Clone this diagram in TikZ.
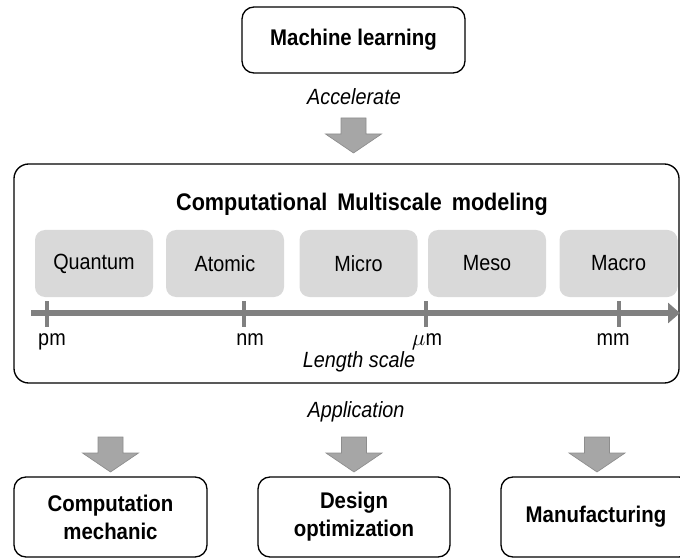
\documentclass[tikz,border=0pt]{standalone}
\usepackage{fontspec}
\setmainfont[FakeStretch=0.9]{Liberation Sans}
\usetikzlibrary{positioning}
\usetikzlibrary{arrows.meta}

\definecolor{scalegray}{RGB}{217,217,217}
\definecolor{arrowgray}{RGB}{166,166,166}
\definecolor{axisgray}{RGB}{128,128,128}

\begin{document}
\begin{tikzpicture}[x=0.75pt, y=-0.75pt,
  roundbox/.style={draw=black, rounded corners=9pt, line width=1pt, align=center, font=\fontsize{17}{21}\selectfont\bfseries},
  scalebox/.style={fill=scalegray, rounded corners=7.5pt, minimum width=88.5pt, minimum height=50.25pt, font=\fontsize{16.5}{20}\selectfont},
  tag/.style={font=\fontsize{16.5}{20}\selectfont\itshape},
  ticklabel/.style={font=\fontsize{16.5}{20}\selectfont, inner sep=0pt, anchor=base},
  tickline/.style={axisgray, line width=3pt},
  downarrow/.pic={\draw[fill=arrowgray, draw=arrowgray!85!black, line width=0.5pt] (-12.5,0) -- (12.5,0) -- (12.5,16) -- (28,16) -- (0,35) -- (-28,16) -- (-12.5,16) -- cycle;}
]
\useasboundingbox (0,0) rectangle (680,559);

\node[roundbox, minimum width=167.25pt, minimum height=49.5pt] at (353.5,40) (ML) {Machine learning};
\node[tag] at (354,97) (Accel) {Accelerate};
\pic at (353.5,118) {downarrow};

\node[roundbox, rounded corners=11pt, minimum width=498.75pt, minimum height=164.25pt] at (346.5,273.5) (Multi) {};
\node[font=\fontsize{18}{22}\selectfont\bfseries] at (362,204) (Title) {Computational\ \,Multiscale\ \,modeling};

\foreach \nm/\cx in {Quantum/94, Atomic/225, Micro/358.5, Meso/487, Macro/618.5}
  \node[scalebox] at (\cx,263.5) (\nm) {\nm};

\coordinate (axisL) at (31,313);
\coordinate (axisR) at (680,313);
\draw[axisgray, line width=4.5pt, -{Triangle[length=9pt, width=15pt]}] (axisL) -- (axisR);

\foreach \tx/\lx/\nm/\lab in {47/52/pm/pm, 244/250/nm/nm, 426/427/um/$\mu$m, 619/613/mm/mm} {
  \draw[tickline] (\tx,301) -- (\tx,327);
  \node[ticklabel] at (\lx,345) (\nm) {\lab};
}
\node[tag, anchor=base] at (359,367) (Length) {Length scale};

\node[tag] at (356,412) (App) {Application};

\node[roundbox, minimum width=144.75pt, minimum height=60pt] at (110.5,517) (Mech) {Computation\\mechanic};
\node[roundbox, minimum width=144pt, minimum height=60pt] at (354,517) (Design) {Design\\optimization};
\node[roundbox, minimum width=142.5pt, minimum height=60pt] at (596,517) (Manu) {Manufacturing};

\pic at (110.5,437) {downarrow};
\pic at (354,437) {downarrow};
\pic at (597,437) {downarrow};

\end{tikzpicture}
\end{document}
